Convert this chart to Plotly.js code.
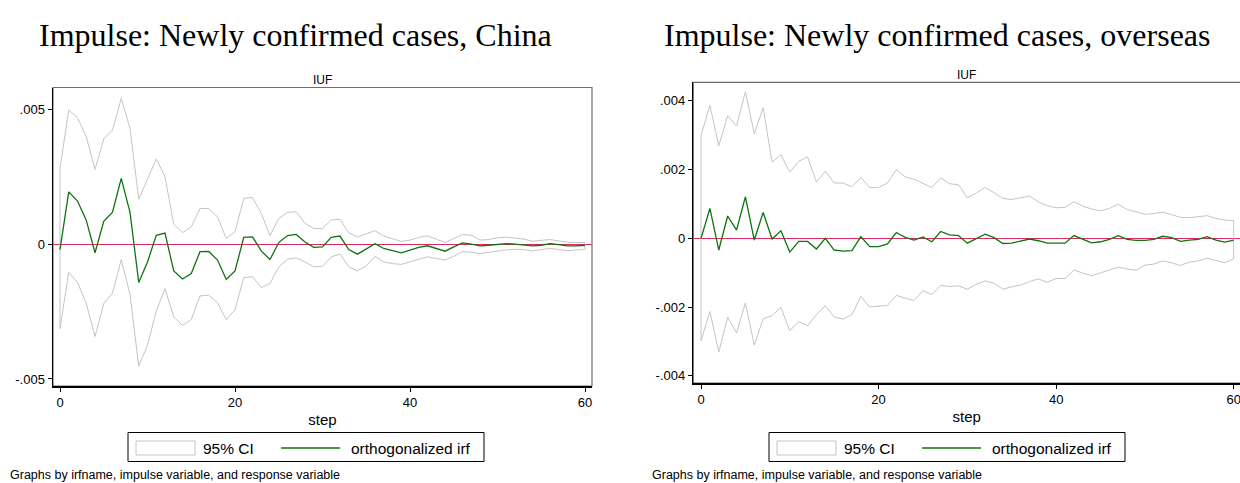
<!DOCTYPE html>
<html>
<head>
<meta charset="utf-8">
<script src="https://cdn.plot.ly/plotly-3.0.1.min.js"></script>
<style>html,body{margin:0;padding:0;background:#fff;}#chart{width:1240px;height:483px;}</style>
</head>
<body>
<div id="chart"></div>
<script>
// ---------- data ----------
const steps = Array.from({length: 61}, (_, i) => i);

const irfChina = [-0.0002,0.00194,0.0016,0.00089,-0.00032,0.00085,0.00119,0.00244,0.00118,-0.00142,
  -0.00066,0.00033,0.00041,-0.00099,-0.00129,-0.00109,-0.00028,-0.00027,-0.00059,-0.00131,
  -0.00099,0.00025,0.00027,-0.00025,-0.00057,0.00006,0.00032,0.00036,0.00008,-0.00012,
  -0.0001,0.00025,0.0003,-0.0002,-0.00037,-0.00016,0.00002,-0.00016,-0.00025,-0.00032,
  -0.00022,-0.00012,-0.00006,-0.00016,-0.00026,-0.0001,0.00005,0,-0.00006,-0.00004,
  0,0.00002,0,-0.00004,-0.00006,-0.00004,0.00002,-0.00002,-0.00006,-0.00006,-0.00004];
const upperChina = [0.00281,0.00498,0.00469,0.00399,0.00277,0.0039,0.00423,0.00541,0.00429,0.00167,
  0.00241,0.00316,0.0025,0.00074,0.00043,0.00064,0.00132,0.00132,0.00101,0.00021,
  0.00046,0.0017,0.00173,0.00114,0.00032,0.00095,0.00118,0.0012,0.00077,0.00058,
  0.00058,0.0009,0.00092,0.00042,0.00027,0.0004,0.0005,0.0003,0.0002,0.0001,
  0.00015,0.00025,0.00031,0.00019,0.00006,0.00021,0.00036,0.00033,0.00015,0.00017,
  0.00024,0.00026,0.00022,0.00019,0.00011,0.00014,0.00017,0.00012,0.00007,0.00006,0.00006];
const lowerChina = [-0.00313,-0.00105,-0.00142,-0.0022,-0.00342,-0.0022,-0.00181,-0.00057,-0.00186,-0.00452,
  -0.00375,-0.00249,-0.00165,-0.0027,-0.00301,-0.0028,-0.00192,-0.00189,-0.00217,-0.0028,
  -0.00243,-0.00124,-0.00121,-0.00161,-0.00146,-0.00084,-0.00056,-0.00051,-0.00066,-0.00084,
  -0.00082,-0.00047,-0.00037,-0.00084,-0.00099,-0.0008,-0.00045,-0.00066,-0.00072,-0.00075,
  -0.00066,-0.00056,-0.00047,-0.00053,-0.00059,-0.00045,-0.00028,-0.0003,-0.00035,-0.0003,
  -0.00025,-0.00021,-0.00019,-0.0002,-0.00025,-0.0002,-0.00016,-0.0002,-0.00024,-0.00022,-0.00019];

const irfOverseas = [0,0.00087,-0.00034,0.00065,0.00024,0.00121,-0.00005,0.00075,-0.00002,0.00022,
  -0.0004,-0.00009,-0.00009,-0.00031,0,-0.00034,-0.00037,-0.00036,0.00005,-0.00024,
  -0.00024,-0.00016,0.00017,0.00003,-0.00005,0.00004,-0.0001,0.0002,0.0001,0.00008,
  -0.00014,-0.00002,0.00012,0.00002,-0.00015,-0.00014,-0.00009,-0.00002,-0.00007,-0.00014,
  -0.00014,-0.00014,0.00008,-0.00003,-0.00013,-0.0001,-0.00003,0.00008,-0.00003,-0.00006,
  -0.00006,-0.00003,0.00006,0.00002,-0.00009,-0.00005,-0.00003,0.00005,-0.00005,-0.00011,-0.00005];
const upperOverseas = [0.003,0.00387,0.00269,0.00357,0.00327,0.00427,0.00304,0.0038,0.00222,0.00243,
  0.00193,0.00224,0.00237,0.00164,0.00195,0.00161,0.00161,0.0015,0.00177,0.00148,
  0.00148,0.00161,0.002,0.00179,0.00172,0.00159,0.00148,0.00176,0.00159,0.00156,
  0.00118,0.00132,0.00148,0.00133,0.00116,0.00113,0.00118,0.00123,0.00106,0.00095,
  0.00089,0.0009,0.00106,0.00094,0.00085,0.0008,0.00087,0.00099,0.00084,0.00077,
  0.0007,0.00072,0.00076,0.00069,0.00061,0.0006,0.00063,0.00066,0.00058,0.00053,0.00052];
const lowerOverseas = [-0.00298,-0.00213,-0.00331,-0.00229,-0.00275,-0.00188,-0.00311,-0.00234,-0.00225,-0.00201,
  -0.00269,-0.00242,-0.00254,-0.00222,-0.00196,-0.00229,-0.00235,-0.00222,-0.00169,-0.002,
  -0.00198,-0.00195,-0.00166,-0.00174,-0.00181,-0.00152,-0.00164,-0.00137,-0.0014,-0.00138,
  -0.00148,-0.00134,-0.00124,-0.0013,-0.00148,-0.00141,-0.00136,-0.00126,-0.00118,-0.00128,
  -0.00117,-0.00117,-0.00092,-0.00101,-0.00109,-0.001,-0.00092,-0.00084,-0.00089,-0.00093,
  -0.00078,-0.00075,-0.00066,-0.00071,-0.00079,-0.00069,-0.00066,-0.00058,-0.00065,-0.00071,-0.0006];

const xTickVals = [0, 20, 40, 60];
const yTickValsChina = [0.005, 0, -0.005];
const yTickTextChina = ['.005', '0', '-.005'];
const yTickValsOverseas = [0.004, 0.002, 0, -0.002, -0.004];
const yTickTextOverseas = ['.004', '.002', '0', '-.002', '-.004'];

const panelTitles = ['Impulse: Newly confirmed cases, China', 'Impulse: Newly confirmed cases, overseas'];
const subTitle = 'IUF';
const xTitle = 'step';
const legendLabels = ['95% CI', 'orthogonalized irf'];
const noteText = 'Graphs by irfname, impulse variable, and response variable';

// ---------- helpers ----------
const W = 1240, H = 483;
const px = v => v / W;
const py = v => 1 - v / H;

function ciPolygon(upper, lower) {
  const xs = steps.concat(steps.slice().reverse(), [steps[0]]);
  const ys = upper.concat(lower.slice().reverse(), [upper[0]]);
  return {xs, ys};
}

const ciColor = '#c4c4c4';
const irfColor = '#0f730f';
const zeroColor = '#dc2a60';
const sans = 'Liberation Sans, Arial, sans-serif';
const serif = 'Liberation Serif, Times New Roman, serif';

const pc = ciPolygon(upperChina, lowerChina);
const po = ciPolygon(upperOverseas, lowerOverseas);

const traces = [
  {x: pc.xs, y: pc.ys, xaxis: 'x', yaxis: 'y', mode: 'lines', line: {color: ciColor, width: 1}, hoverinfo: 'skip', name: legendLabels[0]},
  {x: steps, y: irfChina, xaxis: 'x', yaxis: 'y', mode: 'lines', line: {color: irfColor, width: 1.3}, name: legendLabels[1]},
  {x: po.xs, y: po.ys, xaxis: 'x2', yaxis: 'y2', mode: 'lines', line: {color: ciColor, width: 1}, hoverinfo: 'skip', name: legendLabels[0]},
  {x: steps, y: irfOverseas, xaxis: 'x2', yaxis: 'y2', mode: 'lines', line: {color: irfColor, width: 1.3}, name: legendLabels[1]}
];

function xAxis(domain, range, anchor) {
  return {
    domain, range, anchor,
    tickvals: xTickVals, ticks: 'outside', ticklen: 4, tickwidth: 1, tickcolor: '#000',
    showline: true, linecolor: '#000', linewidth: 1.5,
    showgrid: false, zeroline: false, ticklabeloverflow: 'allow',
    tickfont: {family: sans, size: 13, color: '#000'},
    title: {text: xTitle, font: {family: sans, size: 15, color: '#000'}, standoff: 5}
  };
}
function yAxis(domain, range, anchor, vals, text) {
  return {
    domain, range, anchor,
    tickvals: vals, ticktext: text, ticks: 'outside', ticklen: 4, tickwidth: 1, tickcolor: '#000',
    showline: true, linecolor: '#000', linewidth: 1.5,
    showgrid: false, zeroline: true, zerolinecolor: zeroColor, zerolinewidth: 1.3,
    tickfont: {family: sans, size: 13, color: '#000'}
  };
}

// panel frames (px)
const L = {x0: 53, x1: 592, y0: 87.5, y1: 386};
const R = {x0: 693.3, x1: 1240, y0: 82.3, y1: 383};

const layout = {
  width: W, height: H,
  margin: {l: 0, r: 0, t: 0, b: 0, pad: 0},
  paper_bgcolor: '#fff', plot_bgcolor: '#fff',
  showlegend: false,
  xaxis: xAxis([px(L.x0), px(L.x1)], [-0.8, 60.8], 'y'),
  yaxis: yAxis([py(L.y1), py(L.y0)], [-0.00526, 0.00581], 'x', yTickValsChina, yTickTextChina),
  xaxis2: xAxis([px(R.x0), px(R.x1)], [-0.87, 60.71], 'y2'),
  yaxis2: yAxis([py(R.y1), py(R.y0)], [-0.00421, 0.004541], 'x2', yTickValsOverseas, yTickTextOverseas),
  shapes: [],
  annotations: []
};

// gray plot-region borders (right panel's right edge lies just off the canvas)
layout.shapes.push(
  {type: 'rect', xref: 'x domain', yref: 'y domain', x0: 0, x1: 1, y0: 0, y1: 1, line: {color: '#6e6e6e', width: 1.2}, layer: 'below'},
  {type: 'rect', xref: 'x2 domain', yref: 'y2 domain', x0: 0, x1: 1.01, y0: 0, y1: 1, line: {color: '#6e6e6e', width: 1.2}, layer: 'below'}
);

// titles
layout.annotations.push(
  {text: panelTitles[0], xref: 'paper', yref: 'paper', x: px(295), y: py(35), xanchor: 'center', yanchor: 'middle', showarrow: false, font: {family: serif, size: 32, color: '#000'}},
  {text: panelTitles[1], xref: 'paper', yref: 'paper', x: px(937), y: py(35), xanchor: 'center', yanchor: 'middle', showarrow: false, font: {family: serif, size: 32, color: '#000'}},
  {text: subTitle, xref: 'paper', yref: 'paper', x: px((L.x0 + L.x1) / 2), y: py(80), xanchor: 'center', yanchor: 'middle', showarrow: false, font: {family: sans, size: 12, color: '#000'}},
  {text: subTitle, xref: 'paper', yref: 'paper', x: px((R.x0 + 1240) / 2), y: py(75), xanchor: 'center', yanchor: 'middle', showarrow: false, font: {family: sans, size: 12, color: '#000'}},
  {text: noteText, xref: 'paper', yref: 'paper', x: px(8), y: py(475), xanchor: 'left', yanchor: 'middle', showarrow: false, font: {family: sans, size: 12.5, color: '#000'}},
  {text: noteText, xref: 'paper', yref: 'paper', x: px(650), y: py(475), xanchor: 'left', yanchor: 'middle', showarrow: false, font: {family: sans, size: 12.5, color: '#000'}}
);

// custom legends (Stata style)
function addLegend(bx) {
  const top = 432.5, bot = 461.5, mid = 448;
  layout.shapes.push(
    {type: 'rect', xref: 'paper', yref: 'paper', x0: px(bx), x1: px(bx + 356), y0: py(bot), y1: py(top), line: {color: '#000', width: 1}, fillcolor: '#fff'},
    {type: 'rect', xref: 'paper', yref: 'paper', x0: px(bx + 8), x1: px(bx + 67), y0: py(455), y1: py(441), line: {color: ciColor, width: 1}, fillcolor: '#fff'},
    {type: 'line', xref: 'paper', yref: 'paper', x0: px(bx + 153), x1: px(bx + 212), y0: py(mid), y1: py(mid), line: {color: irfColor, width: 1.3}}
  );
  layout.annotations.push(
    {text: legendLabels[0], xref: 'paper', yref: 'paper', x: px(bx + 73), y: py(mid), xanchor: 'left', yanchor: 'middle', showarrow: false, font: {family: sans, size: 15.5, color: '#000'}},
    {text: legendLabels[1], xref: 'paper', yref: 'paper', x: px(bx + 221), y: py(mid), xanchor: 'left', yanchor: 'middle', showarrow: false, font: {family: sans, size: 15.5, color: '#000'}}
  );
}
addLegend(128);
addLegend(769);

Plotly.newPlot('chart', traces, layout, {staticPlot: true, displayModeBar: false});
</script>
</body>
</html>
